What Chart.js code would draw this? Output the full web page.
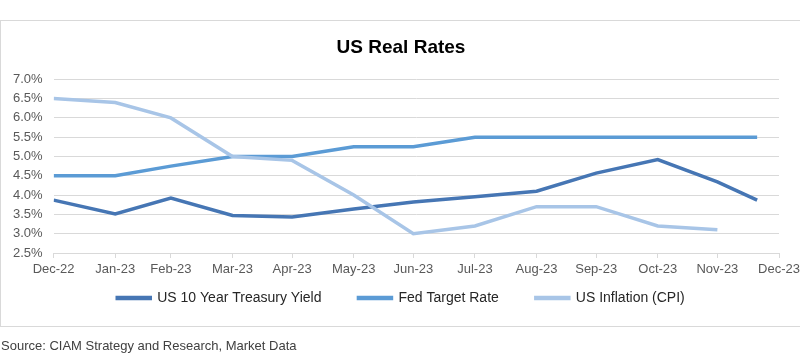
<!DOCTYPE html>
<html>
<head>
<meta charset="utf-8">
<script src="https://cdn.jsdelivr.net/npm/chart.js@4/dist/chart.umd.min.js"></script>
<style>
  html, body { margin: 0; padding: 0; background: #ffffff; }
  #wrap { position: relative; width: 800px; height: 355px; }
</style>
</head>
<body>
<div id="wrap"><canvas id="c" width="800" height="355"></canvas></div>
<script>
// ---- Data ----
const tickDates = ['2022-12-31','2023-01-31','2023-02-28','2023-03-31','2023-04-30','2023-05-31','2023-06-30','2023-07-31','2023-08-31','2023-09-30','2023-10-31','2023-11-30','2023-12-31'];
const tickLabels = ['Dec-22','Jan-23','Feb-23','Mar-23','Apr-23','May-23','Jun-23','Jul-23','Aug-23','Sep-23','Oct-23','Nov-23','Dec-23'];
const pointDates = ['2022-12-31','2023-01-31','2023-02-28','2023-03-31','2023-04-30','2023-05-31','2023-06-30','2023-07-31','2023-08-31','2023-09-30','2023-10-31','2023-11-30','2023-12-20'];
const treasuryYield = [3.87, 3.51, 3.92, 3.47, 3.43, 3.64, 3.82, 3.96, 4.10, 4.57, 4.92, 4.34, 3.87];
const fedTargetRate = [4.50, 4.50, 4.75, 5.00, 5.00, 5.25, 5.25, 5.50, 5.50, 5.50, 5.50, 5.50, 5.50];
const usInflation   = [6.5, 6.4, 6.0, 5.0, 4.9, 4.0, 3.0, 3.2, 3.7, 3.7, 3.2, 3.1];
const seriesNames = ['US 10 Year Treasury Yield', 'Fed Target Rate', 'US Inflation (CPI)'];
const sourceText = 'Source: CIAM Strategy and Research, Market Data';
const chartTitle = 'US Real Rates';

// ---- Helpers ----
const base = Date.parse(tickDates[0]);
const dayOf = s => Math.round((Date.parse(s) - base) / 86400000);
const tickDays = tickDates.map(dayOf);
const toPoints = vals => vals.map((v, i) => ({ x: dayOf(pointDates[i]), y: v }));

const FONT = "'Liberation Sans', Arial, sans-serif";
const GRID = '#d9d9d9';
const LEG_FONT = 14;
const LEG_H_PAD = 37;   // horizontal gap between legend items
const LEG_V_PAD = 9.4;  // vertical padding above legend row

const frame = {
  id: 'frame',
  beforeLayout(chart) {
    const lg = chart.legend;
    if (lg && !lg._patched) {
      lg._patched = true;
      const fit = lg.fit;
      lg.fit = function () {
        fit.call(this);
        if (this.isHorizontal()) this.height = LEG_V_PAD + LEG_FONT + 10;
      };
      const draw = lg._draw;
      lg._draw = function () {
        const t = this.top;
        this.top = t - (this.options.labels.padding - LEG_V_PAD);
        draw.call(this);
        this.top = t;
      };
    }
  },
  beforeDraw(chart) {
    const ctx = chart.ctx;
    ctx.save();
    ctx.fillStyle = '#ffffff';
    ctx.fillRect(0, 0, chart.width, chart.height);
    ctx.strokeStyle = GRID;
    ctx.lineWidth = 1;
    ctx.strokeRect(0.5, 20.5, 801, 306);
    ctx.restore();
  },
  afterDraw(chart) {
    const ctx = chart.ctx;
    ctx.save();
    ctx.font = '13px ' + FONT;
    ctx.fillStyle = '#404040';
    ctx.textBaseline = 'middle';
    ctx.textAlign = 'left';
    ctx.fillText(sourceText, 1, 346);
    ctx.restore();
  }
};

new Chart(document.getElementById('c'), {
  type: 'line',
  data: {
    datasets: [
      { label: seriesNames[0], data: toPoints(treasuryYield), borderColor: '#4676b4', backgroundColor: '#4676b4', borderWidth: 3.5, pointRadius: 0, tension: 0, order: 2 },
      { label: seriesNames[1], data: toPoints(fedTargetRate), borderColor: '#5b9bd5', backgroundColor: '#5b9bd5', borderWidth: 3.5, pointRadius: 0, tension: 0, order: 1 },
      { label: seriesNames[2], data: toPoints(usInflation), borderColor: '#a8c5e7', backgroundColor: '#a8c5e7', borderWidth: 3.5, pointRadius: 0, tension: 0, order: 0 }
    ]
  },
  plugins: [frame],
  options: {
    responsive: false,
    animation: false,
    devicePixelRatio: 1,
    layout: { padding: { top: 20, left: 2, right: 0, bottom: 40 } },
    plugins: {
      title: {
        display: true,
        text: chartTitle,
        color: '#000000',
        font: { family: FONT, size: 19, weight: 'bold' },
        padding: { top: 16, bottom: 20.5 }
      },
      legend: {
        position: 'bottom',
        labels: {
          sort: (a, b) => a.datasetIndex - b.datasetIndex,
          boxWidth: 33,
          boxHeight: 1,
          padding: LEG_H_PAD,
          color: '#262626',
          font: { family: FONT, size: LEG_FONT }
        }
      },
      tooltip: { enabled: false }
    },
    scales: {
      x: {
        type: 'linear',
        min: tickDays[0],
        max: tickDays[tickDays.length - 1],
        afterBuildTicks: scale => { scale.ticks = tickDays.map(v => ({ value: v })); },
        afterFit: scale => { scale.paddingRight = 21; },
        ticks: {
          autoSkip: false,
          maxRotation: 0,
          minRotation: 0,
          padding: 4,
          color: '#595959',
          font: { family: FONT, size: 13 },
          callback: v => { const i = tickDays.indexOf(v); return i >= 0 ? tickLabels[i] : ''; }
        },
        grid: { drawOnChartArea: false, drawTicks: true, tickLength: 5, color: GRID },
        border: { display: true, color: GRID, width: 1 }
      },
      y: {
        min: 2.5,
        max: 7.0,
        ticks: {
          stepSize: 0.5,
          padding: 11,
          color: '#595959',
          font: { family: FONT, size: 13 },
          callback: v => v.toFixed(1) + '%'
        },
        grid: { drawTicks: false, color: GRID },
        border: { display: false }
      }
    }
  }
});
</script>
</body>
</html>
